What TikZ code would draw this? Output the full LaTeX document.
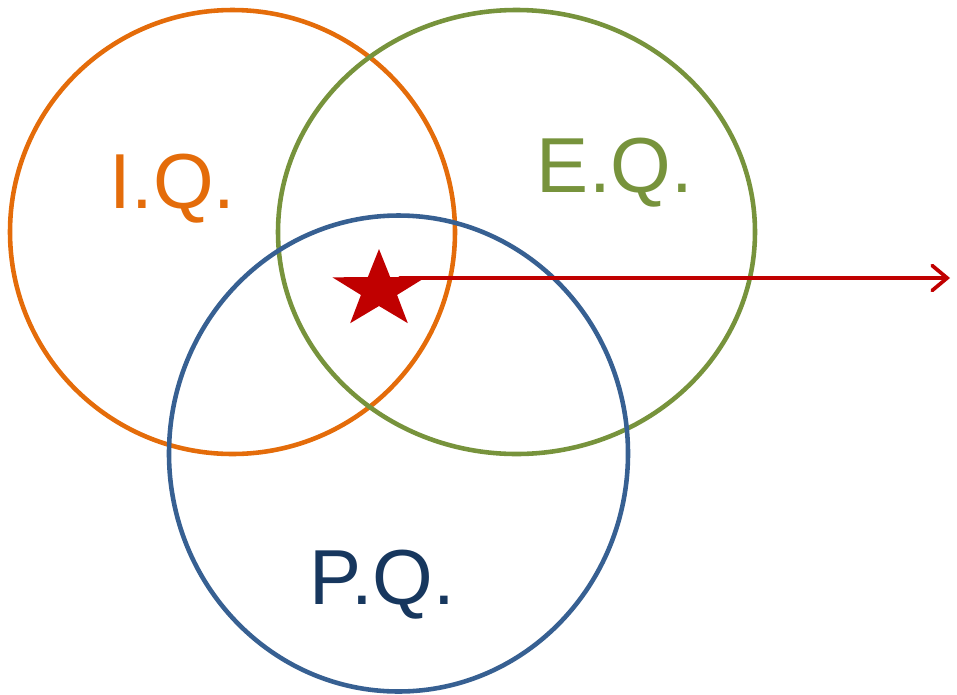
\documentclass[tikz,border=0pt]{standalone}
\usepackage{fontspec}
\setmainfont{Liberation Sans}
\usetikzlibrary{arrows.meta}
\definecolor{IQorange}{RGB}{228,108,10}
\definecolor{EQgreen}{RGB}{119,147,60}
\definecolor{PQblue}{RGB}{55,96,146}
\definecolor{PQnavy}{RGB}{23,55,94}
\definecolor{StarRed}{RGB}{192,0,0}

\begin{document}
\begin{tikzpicture}[x=0.02cm, y=-0.02cm,
    ring/.style={line width=2.6pt},
    qlabel/.style={anchor=base, inner sep=0pt, font=\fontsize{44.4}{50}\selectfont}]
  \useasboundingbox (0,0) rectangle (957,694);
  % the three circles
  \draw[ring, IQorange] (232.5,232) circle [x radius=222.5, y radius=222];
  \draw[ring, EQgreen]  (516.5,232) circle [x radius=238.5, y radius=222];
  \draw[ring, PQblue]   (398.5,453.5) circle [x radius=229.5, y radius=238];
  \node[qlabel, IQorange] (iq) at (172.5,208.3) {I.Q.};
  \node[qlabel, EQgreen]  (eq) at (615,192.3) {E.Q.};
  \node[qlabel, PQnavy]   (pq) at (382,604) {P.Q.};
  % arrow out of the common area
  \coordinate (hub) at (400,278);
  \coordinate (tip) at (950,278);
  \draw[StarRed, line width=2.1pt, line cap=round,
        -{Straight Barb[length=0.3cm,width=0.5cm,line cap=round]}] (hub) -- (tip);
  \fill[StarRed] (379,249) \foreach \a in {0,...,4} {
      -- ({379+19*cos(126+72*\a)},{290-16*sin(126+72*\a)})
      -- ({379+49*cos(162+72*\a)},{290-41*sin(162+72*\a)})} -- cycle;
\end{tikzpicture}
\end{document}
